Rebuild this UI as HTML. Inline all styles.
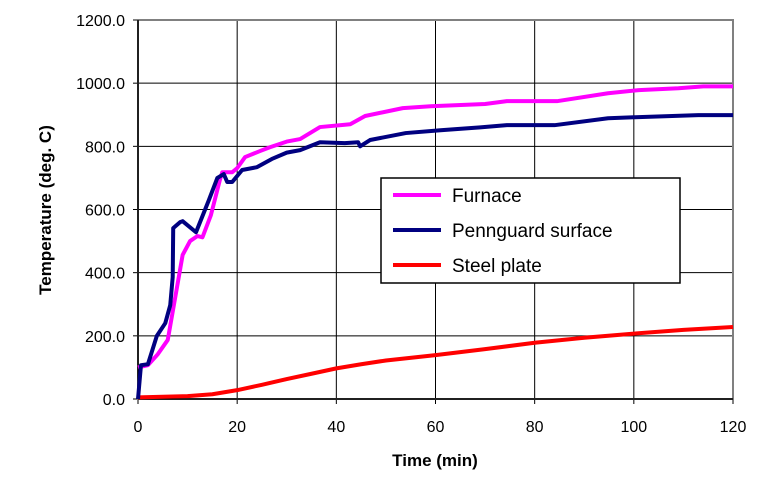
<!DOCTYPE html>
<html><head><meta charset="utf-8"><style>
body{margin:0;background:#fff;}
svg{display:block;font-family:"Liberation Sans",Arial,sans-serif;}
</style></head><body>
<svg id="chart" width="775" height="480"></svg>
<script>
const times_furnace=[0,2,4,6,7.7,9,10.5,12,13,14.7,16.5,17,19,20,21.6,24.6,26.6,30,32.7,36.7,42.8,45.8,53.4,59,70,74.4,84.5,94.8,101,109,114,120];
const furnace=[100,107,142,187,339,456,500,516,512,582,693,718,718,731,766,785,797,815,823,861,870,896,921,927,934,943,943,968,978,984,990,990];
const times_penn=[0,0.6,2,3.8,5.5,6.5,7,7.1,8.5,9,11.7,14.3,16,17.3,18,19,21,24,27,30,32.7,36.7,41.7,44.4,44.8,46.8,54,61,69,74.4,84,94.8,100,113,120];
const penn=[0,107,110,200,240,297,386,541,560,563,528,630,700,712,687,687,725,734,760,780,788,813,810,813,800,820,842,851,860,867,867,889,892,899,899];
const times_steel=[0,5,10,15,20,25,30,35,40,45,50,60,70,80,90,100,110,120];
const steel=[5,7,9,15,28,45,63,80,97,110,122,139,158,178,194,207,219,228];
const xTicks=[0,20,40,60,80,100,120];
const yTicks=[0,200,400,600,800,1000,1200];
const legendLabels=["Furnace","Pennguard surface","Steel plate"];
const colors=["#ff00ff","#000080","#ff0000"];
const X0=138,X1=733,Y0=399,Y1=20;
const xs=v=>X0+(v-0)/(120)*(X1-X0);
const ys=v=>Y0-(v/1200)*(Y0-Y1);
const svg=document.getElementById('chart');
const NS="http://www.w3.org/2000/svg";
function mk(t,a,parent){const e=document.createElementNS(NS,t);for(const k in a)e.setAttribute(k,a[k]);(parent||svg).appendChild(e);return e;}
// grid
yTicks.forEach(v=>{
  const l=mk('line',{x1:X0,x2:X1,y1:ys(v),y2:ys(v),stroke:'#000','stroke-width':1});
  
  
  mk('line',{x1:X0-5,x2:X0,y1:ys(v),y2:ys(v),stroke:'#000'});
  const t=mk('text',{x:X0-13,y:ys(v)+6,'text-anchor':'end','font-size':16});
  t.textContent=v.toFixed(1);
  
  
});
xTicks.forEach(v=>{
  const l=mk('line',{x1:xs(v),x2:xs(v),y1:Y1,y2:Y0+5,stroke:'#000','stroke-width':1});
  
  
  const t=mk('text',{x:xs(v),y:Y0+33,'text-anchor':'middle','font-size':16});
  t.textContent=v;
  
  
});
const frame=mk('rect',{x:X0,y:Y1,width:X1-X0,height:Y0-Y1,fill:'none',stroke:'#808080','stroke-width':2});


mk('line',{x1:X0,x2:X0,y1:Y1,y2:Y0,stroke:'#000','stroke-width':1.5});
mk('line',{x1:X0,x2:X1,y1:Y0,y2:Y0,stroke:'#000','stroke-width':1.5});
// series
function series(tx,vals,color,name){
  const p=mk('polyline',{points:tx.map((t,i)=>xs(t)+','+ys(vals[i])).join(' '),fill:'none',stroke:color,'stroke-width':4,'stroke-linejoin':'round'});
  
  
}
series(times_steel,steel,colors[2],'steel-plate-line');
series(times_furnace,furnace,colors[0],'furnace-line');
series(times_penn,penn,colors[1],'pennguard-surface-line');
// legend
const lg=mk('g',{});


mk('rect',{x:381,y:178,width:299,height:105,fill:'#fff',stroke:'#000','stroke-width':1.5},lg);
legendLabels.forEach((lab,i)=>{
  const y=195+i*35;
  const g=mk('g',{},lg);
  
  
  mk('line',{x1:393,x2:441,y1:y,y2:y,stroke:colors[i],'stroke-width':4},g);
  const t=mk('text',{x:452,y:y+7,'font-size':19},g);
  t.textContent=lab;
});
// titles
const xt=mk('text',{x:435,y:466,'text-anchor':'middle','font-size':17,'font-weight':'bold'});
xt.textContent='Time (min)';


const yt=mk('text',{x:0,y:0,'text-anchor':'middle','font-size':17,'font-weight':'bold',transform:'translate(51,210) rotate(-90)'});
yt.textContent='Temperature (deg. C)';


</script>
</body></html>
